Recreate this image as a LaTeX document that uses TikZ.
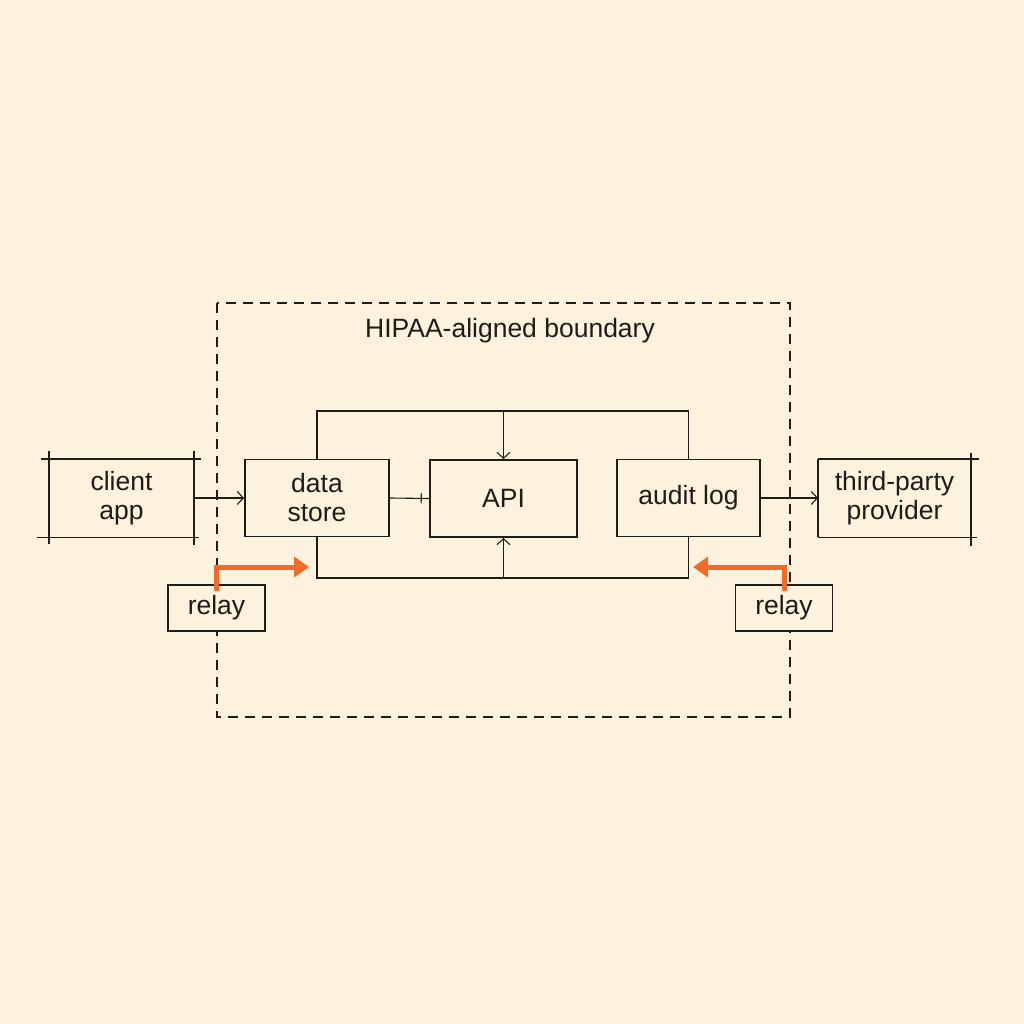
\documentclass[tikz,border=0pt]{standalone}
\usepackage{fontspec}
\setmainfont{Liberation Sans}
\usetikzlibrary{arrows.meta,decorations.markings,calc}
\definecolor{ink}{HTML}{1F1B17}
\definecolor{hot}{HTML}{F26B2C}
\definecolor{paper}{HTML}{FDF2DE}
\begin{document}
\begin{tikzpicture}[x=1pt,y=-1pt,
  box/.style={draw=ink, line width=1.9pt, minimum width=#1, minimum height=77pt,
    align=center, inner sep=0pt, font=\fontsize{26.5}{29}\selectfont, text=ink},
  sketchbox/.style={box=#1, draw=none},
  relaybox/.style={draw=ink, line width=1.7pt, fill=paper, minimum width=97pt, minimum height=46pt,
    inner sep=0pt, font=\fontsize{26.5}{29}\selectfont, text=ink},
  edgeline/.style={draw=ink, line width=1.9pt},
  conn/.style={draw=ink, line width=1.1pt},
  chev/.style={-{Straight Barb[length=6pt,width=13pt,line width=1.1pt]}},
  tickmark/.style={postaction={decorate}, decoration={markings,
      mark=at position 0.8 with {\draw[ink, line width=1.1pt] (0,-5pt) -- (0,5pt);}}},
  hotarrow/.style={draw=hot, line width=5pt, -{Triangle[length=15pt,width=20pt]}},
  boundary/.style={draw=ink, line width=1.6pt, dash pattern=on 10pt off 7pt},
]
\fill[paper] (0,0) rectangle (1024,1024);
\useasboundingbox (0,0) rectangle (1024,1024);

\draw[boundary] (217,303) rectangle (790,717);
\node[font=\fontsize{26.5}{29}\selectfont, text=ink] (title) at (510,331) {HIPAA-aligned boundary};

\node[sketchbox=143pt] (client) at (121.5,498) {client\\app};
\node[box=144pt] (store) at (317,498) {data\\store};
\node[box=147pt] (api) at (503.5,498.5) {API};
\node[box=143pt] (audit) at (688.5,498) {audit log};
\node[sketchbox=151pt] (third) at (894.5,498) {third-party\\provider};

% sketchy overshooting edges
\draw[edgeline] ([xshift=-8pt]client.north west) -- ([xshift=7pt]client.north east);
\draw[edgeline] ([xshift=-12pt]client.south west) -- ([xshift=5pt]client.south east);
\draw[edgeline] ([yshift=8pt]client.north west) -- ([yshift=-7pt]client.south west);
\draw[edgeline] ([yshift=8pt]client.north east) -- ([yshift=-8pt]client.south east);
\draw[edgeline] (third.north west) -- ([xshift=8pt]third.north east);
\draw[edgeline] (third.south west) -- ([xshift=6pt]third.south east);
\draw[edgeline] (third.north west) -- (third.south west);
\draw[edgeline] ([yshift=6pt]third.north east) -- ([yshift=-9pt]third.south east);

\node[relaybox] (relayL) at (216.5,608) {relay};
\node[relaybox] (relayR) at (784,608) {relay};

% horizontal flow
\draw[conn,chev] (client.east) -- (store.west);
\draw[conn,tickmark] (store.east) -- (api.west);
\draw[conn,chev] (audit.east) -- (third.west);

% buses
\coordinate (topbus) at (503.5,411);
\coordinate (botbus) at (503.5,578);
\draw[conn] (store.north) |- (topbus) -| (audit.north);
\draw[conn,chev] (topbus) -- (api.north);
\draw[conn] (store.south) |- (botbus) -| (audit.south);
\draw[conn,chev] (botbus) -- (api.south);

% orange relay arrows
\coordinate (hotL) at (309,567);
\coordinate (hotR) at (693,567);
\draw[hotarrow] ([yshift=-7pt]relayL.north) |- (hotL);
\draw[hotarrow] ([yshift=-7pt]relayR.north) |- (hotR);
\end{tikzpicture}
\end{document}
